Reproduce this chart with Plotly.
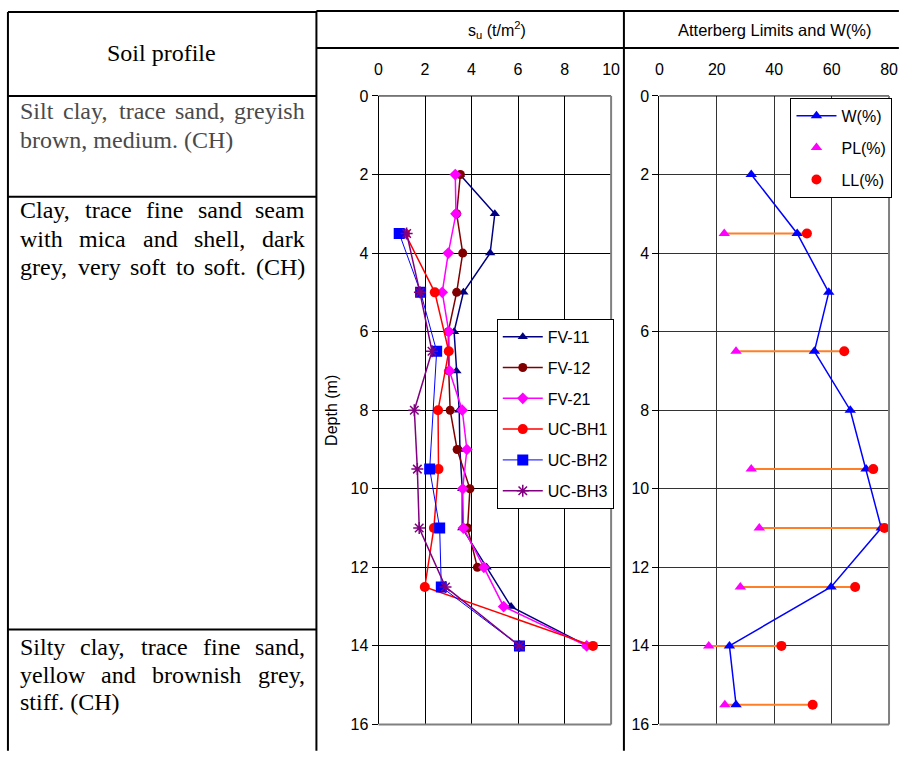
import plotly.graph_objects as go

# ---------------- data ----------------
fv11_depth = [2, 3, 4, 5, 6, 7, 8, 9, 10, 11, 12, 13, 14]
fv11_su = [3.5, 5.0, 4.8, 3.65, 3.25, 3.35, 3.47, 3.5, 3.6, 3.6, 4.65, 5.7, 8.98]

fv12_depth = [2, 3, 4, 5, 6, 7, 8, 9, 10, 11, 12]
fv12_su = [3.52, 3.36, 3.62, 3.36, 3.0, 3.02, 3.08, 3.38, 3.93, 3.83, 4.25]

fv21_depth = [2, 3, 4, 5, 6, 7, 8, 9, 10, 11, 12, 13, 14]
fv21_su = [3.3, 3.33, 3.0, 2.74, 3.02, 3.05, 3.6, 3.8, 3.62, 3.65, 4.53, 5.38, 8.95]

bh1_depth = [3.5, 5, 6.5, 8, 9.5, 11, 12.5, 14]
bh1_su = [1.14, 2.42, 3.02, 2.56, 2.58, 2.38, 1.99, 9.22]

bh2_depth = [3.5, 5, 6.5, 9.5, 11, 12.5, 14]
bh2_su = [0.89, 1.81, 2.5, 2.2, 2.63, 2.7, 6.06]

bh3_depth = [3.5, 5, 6.5, 8, 9.5, 11, 12.5, 14]
bh3_su = [1.21, 1.78, 2.3, 1.54, 1.67, 1.75, 2.88, 6.06]

w_depth = [2, 3.5, 5, 6.5, 8, 9.5, 11, 12.5, 14, 15.5]
w_val = [32, 48, 59, 54, 66.5, 72, 77.3, 59.8, 24.4, 26.7]

lim_depth = [3.5, 6.5, 9.5, 11, 12.5, 14, 15.5]
pl_val = [22.6, 26.7, 32, 34.8, 28.2, 17.2, 22.8]
ll_val = [51.4, 64.4, 74.5, 78.4, 68.2, 42.5, 53.4]

depth_ticks = [0, 2, 4, 6, 8, 10, 12, 14, 16]

layer1_lines = ["Silt clay, trace sand, greyish", "brown, medium. (CH)"]
layer1_justify = [True, False]
layer2_lines = ["Clay, trace fine sand seam", "with mica and shell, dark", "grey, very soft to soft. (CH)"]
layer2_justify = [True, True, True]
layer3_lines = ["Silty clay, trace fine sand,", "yellow and brownish grey,", "stiff. (CH)"]
layer3_justify = [True, True, False]

# ---------------- helpers ----------------
# The page keeps the browser's default 8px body margin, so the figure is
# sized to fill the window exactly together with that margin.
OFF = 8
W_PX, H_PX = 916 - 2 * OFF, 768 - 2 * OFF


def fx(x):
    return (x - OFF) / W_PX


def fy(y):
    return 1 - (y - OFF) / H_PX


SANS = "Liberation Sans, Arial, sans-serif"
SERIF = "Liberation Serif, Times New Roman, serif"

TIMES = {' ': 250, ',': 250, '.': 250, '(': 333, ')': 333, 'C': 667, 'H': 722, 'S': 556,
         'a': 444, 'b': 500, 'c': 444, 'd': 500, 'e': 444, 'f': 333, 'g': 500, 'h': 500,
         'i': 278, 'k': 500, 'l': 278, 'm': 778, 'n': 500, 'o': 500, 'p': 500, 'r': 333,
         's': 389, 't': 278, 'u': 500, 'v': 500, 'w': 722, 'x': 500, 'y': 500}


def tw(s, size):
    return sum(TIMES.get(c, 500) for c in s) / 1000.0 * size


fig = go.Figure()

# ---------------- s_u chart ----------------
series = [
    ("FV-11", fv11_su, fv11_depth, '#000080', 'triangle-up', 9, 1.5),
    ("FV-12", fv12_su, fv12_depth, '#800000', 'circle', 9, 1.5),
    ("FV-21", fv21_su, fv21_depth, '#FF00FF', 'diamond', 9, 1.5),
    ("UC-BH1", bh1_su, bh1_depth, '#FF0000', 'circle', 10, 1.5),
    ("UC-BH2", bh2_su, bh2_depth, '#0000FF', 'square', 11, 1),
]
for name, xs, ys, col, sym, sz, lw in series:
    fig.add_trace(go.Scatter(
        x=xs, y=ys, mode='lines+markers', name=name, xaxis='x', yaxis='y',
        legend='legend', legendgroup=name,
        line=dict(color=col, width=lw),
        marker=dict(symbol=sym, size=sz, color=col, line=dict(width=0))))
fig.add_trace(go.Scatter(
    x=bh3_su, y=bh3_depth, mode='lines+markers', name='UC-BH3', xaxis='x', yaxis='y',
    legend='legend', legendgroup='UC-BH3',
    line=dict(color='#800080', width=1.5),
    marker=dict(symbol='asterisk-open', size=10, color='#800080',
                line=dict(color='#800080', width=1.5))))

# ---------------- Atterberg chart ----------------
ox, oy = [], []
for d, p, l in zip(lim_depth, pl_val, ll_val):
    ox += [p, l, None]
    oy += [d, d, None]
fig.add_trace(go.Scatter(x=ox, y=oy, mode='lines', xaxis='x2', yaxis='y2',
                         showlegend=False, line=dict(color='#FF7F27', width=2)))
fig.add_trace(go.Scatter(
    x=w_val, y=w_depth, mode='lines+markers', name='W(%)', xaxis='x2', yaxis='y2',
    legend='legend2', legendgroup='W',
    line=dict(color='#0000FF', width=1.5),
    marker=dict(symbol='triangle-up', size=10, color='#0000FF')))
fig.add_trace(go.Scatter(
    x=pl_val, y=lim_depth, mode='markers', name='PL(%)', xaxis='x2', yaxis='y2',
    legend='legend2', legendgroup='PL',
    marker=dict(symbol='triangle-up', size=10, color='#FF00FF')))
fig.add_trace(go.Scatter(
    x=ll_val, y=lim_depth, mode='markers', name='LL(%)', xaxis='x2', yaxis='y2',
    legend='legend2', legendgroup='LL',
    marker=dict(symbol='circle', size=10, color='#FF0000')))

# ---------------- axes ----------------
ydom = [fy(741), fy(98)]
common_x = dict(side='top', showgrid=True, gridwidth=1, ticks='', zeroline=False,
                showline=False, ticklabelstandoff=17, tickfont=dict(size=16, family=SANS))
common_y = dict(domain=ydom, range=[16, 0], tickvals=depth_ticks, showgrid=True, gridwidth=1,
                ticks='outside', ticklen=6, tickcolor='black', showline=True, linecolor='black',
                linewidth=1, zeroline=False, tickfont=dict(size=16, family=SANS))

fig.update_layout(
    width=W_PX, height=H_PX, autosize=False,
    margin=dict(l=0, r=0, t=0, b=0),
    paper_bgcolor='white', plot_bgcolor='white',
    font=dict(family=SANS, size=16, color='black'),
    xaxis=dict(domain=[fx(388), fx(624)], range=[0, 10], tick0=0, dtick=2, anchor='y',
               gridcolor='black', **common_x),
    yaxis=dict(anchor='x', gridcolor='black', **common_y),
    xaxis2=dict(domain=[fx(673), fx(906)], range=[0, 80], tick0=0, dtick=20, anchor='y2',
                gridcolor='#333333', **common_x),
    yaxis2=dict(anchor='x2', gridcolor='#333333', **common_y),
    legend=dict(x=fx(508), y=fy(326), xanchor='left', yanchor='top', bgcolor='white',
                bordercolor='black', borderwidth=1, font=dict(size=16, family=SANS),
                tracegroupgap=7, traceorder='grouped', itemwidth=40),
    legend2=dict(x=fx(806), y=fy(100), xanchor='left', yanchor='top', bgcolor='white',
                 bordercolor='black', borderwidth=1, font=dict(size=16, family=SANS),
                 tracegroupgap=8, traceorder='grouped', itemwidth=40),
)

# ---------------- shapes (table + plot frames) ----------------
shapes = []


def pline(x0, y0, x1, y1, color='black', width=2):
    shapes.append(dict(type='line', xref='paper', yref='paper', x0=fx(x0), y0=fy(y0),
                       x1=fx(x1), y1=fy(y1), line=dict(color=color, width=width)))


pline(12, 12, 325, 12)
pline(325, 11, 916, 11)
pline(325, 49, 916, 49)
pline(12, 98, 325, 98)
pline(12, 201, 325, 201)
pline(12, 644, 325, 644)
pline(12, 12, 12, 768)
pline(325, 11, 325, 768)
pline(637, 11, 637, 768)

for xr, yr in (('x domain', 'y domain'), ('x2 domain', 'y2 domain')):
    shapes.append(dict(type='line', xref=xr, yref=yr, x0=0, x1=1, y0=1, y1=1,
                       line=dict(color='black', width=1)))
    shapes.append(dict(type='line', xref=xr, yref=yr, x0=1, x1=1, y0=0, y1=1,
                       line=dict(color='#808080', width=2)))
    shapes.append(dict(type='line', xref=xr, yref=yr, x0=0, x1=1, y0=0, y1=0,
                       line=dict(color='#808080', width=2)))
fig.update_layout(shapes=shapes)

# ---------------- annotations ----------------
ann = []


def txt(x, y, s, size, family=SANS, color='black', xanchor='center', angle=0):
    ann.append(dict(xref='paper', yref='paper', x=fx(x), y=fy(y), text=s, showarrow=False,
                    xanchor=xanchor, yanchor='middle', textangle=angle,
                    font=dict(size=size, family=family, color=color)))


txt(168, 54, "Soil profile", 24, SERIF)
txt(508, 30, "s<sub>u</sub> (t/m<sup>2</sup>)", 16)
txt(790, 31, "Atterberg Limits and W(%)", 16.5)
txt(340, 420, "Depth (m)", 16, angle=-90)

FS = 24
LEFT, RIGHT = 24, 313


def add_block(lines, justify, y0, dy, color):
    for i, (line, j) in enumerate(zip(lines, justify)):
        y = y0 + i * dy
        if not j:
            txt(LEFT - 2, y, line, FS, SERIF, color, 'left')
            continue
        words = line.split(' ')
        widths = [tw(w, FS) for w in words]
        gap = (RIGHT - LEFT - sum(widths)) / (len(words) - 1)
        x = LEFT
        for k, (w, wd) in enumerate(zip(words, widths)):
            if k == len(words) - 1:
                txt(RIGHT + 2, y, w, FS, SERIF, color, 'right')
            else:
                txt(x - 2, y, w, FS, SERIF, color, 'left')
            x += wd + gap


add_block(layer1_lines, layer1_justify, 113, 30, '#4a4a4a')
add_block(layer2_lines, layer2_justify, 215, 29, 'black')
add_block(layer3_lines, layer3_justify, 662, 28, 'black')

fig.update_layout(annotations=ann)

fig.write_html("out.html")
